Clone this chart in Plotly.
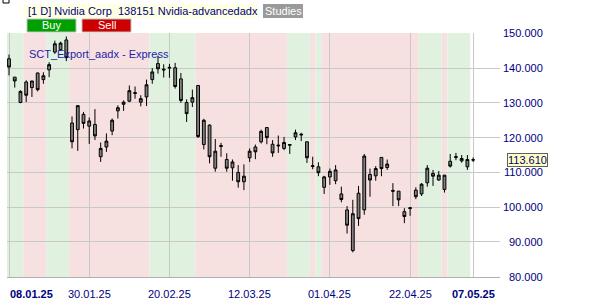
import plotly.graph_objects as go
import pandas as pd

# ---------------- data ----------------
_days = pd.bdate_range("2025-01-08", "2025-05-07")
_closed = pd.to_datetime(["2025-01-09", "2025-01-20", "2025-02-17", "2025-04-18"])
_days = _days[~_days.isin(_closed)]
dates = [d.strftime("%d.%m.%y") for d in _days]

opens = [142.7, 137.4, 130.1, 136.0, 134.4, 138.6, 136.7, 139.5, 144.6, 145.3,
         148.1, 124.2, 122.3, 126.7, 123.3, 123.8, 114.5, 117.3, 121.9, 127.7,
         129.6, 130.5, 132.7, 130.2, 131.7, 136.7, 141.3, 139.7, 140.0, 140.1,
         136.9, 130.1, 130.2, 135.0, 118.0, 123.6, 111.2, 117.7, 113.7, 111.3,
         110.0, 107.3, 114.2, 117.3, 118.8, 122.9, 118.1, 117.6, 116.9, 117.8,
         120.2, 121.0, 118.8, 111.7, 111.6, 105.7, 108.7, 107.6, 103.8, 99.2,
         87.5, 104.0, 99.2, 109.4, 109.0, 114.3, 111.4, 104.8, 104.6, 98.7,
         99.6, 104.9, 103.8, 107.0, 109.7, 107.8, 105.1, 113.2, 114.3, 113.3,
         111.6, 113.55]
highs = [143.9, 137.4, 133.6, 136.5, 136.3, 138.7, 138.8, 141.7, 147.9, 147.6,
         149.1, 126.1, 129.2, 127.4, 125.8, 128.2, 118.6, 121.2, 125.5, 129.3,
         130.7, 135.0, 134.7, 132.2, 136.7, 140.0, 143.6, 141.1, 141.2, 141.5,
         138.6, 131.0, 133.8, 135.1, 125.4, 123.8, 119.6, 118.5, 115.5, 113.7,
         112.1, 112.3, 116.9, 118.0, 122.3, 123.0, 119.3, 120.6, 120.2, 118.1,
         122.3, 121.4, 118.8, 114.5, 112.9, 109.0, 111.1, 112.1, 105.9, 100.3,
         102.1, 106.1, 115.3, 111.1, 111.8, 114.3, 113.7, 106.9, 104.6, 99.7,
         100.0, 105.7, 106.9, 112.1, 110.7, 110.4, 109.2, 115.3, 115.6, 115.0,
         115.0, 114.3]
lows = [137.9, 134.4, 129.9, 130.2, 131.7, 133.3, 135.5, 137.4, 144.1, 144.9,
        142.0, 116.9, 116.2, 122.6, 118.2, 119.3, 113.0, 115.9, 120.7, 125.5,
        127.7, 130.2, 131.2, 129.0, 129.1, 135.5, 138.4, 137.3, 137.2, 134.1,
        130.0, 124.5, 128.8, 119.9, 116.6, 112.6, 110.2, 114.5, 110.2, 107.6,
        105.6, 104.9, 113.0, 113.8, 118.3, 118.1, 114.5, 115.6, 116.4, 115.3,
        119.3, 119.0, 112.7, 110.9, 108.9, 103.8, 106.4, 106.6, 101.4, 92.4,
        87.0, 94.6, 97.8, 103.0, 107.6, 108.9, 110.7, 100.3, 100.3, 95.4,
        97.5, 102.3, 103.2, 105.9, 106.1, 107.6, 104.2, 111.4, 113.5, 112.8,
        110.7, 113.0]
closes = [140.3, 136.3, 133.3, 132.2, 136.3, 133.8, 137.8, 141.0, 147.0, 147.2,
          143.0, 118.8, 129.2, 124.1, 124.8, 120.5, 116.9, 119.0, 125.0, 128.6,
          130.2, 133.5, 132.9, 131.2, 135.2, 138.9, 139.8, 139.5, 140.2, 134.7,
          130.7, 126.9, 131.5, 120.3, 125.0, 114.5, 116.1, 117.5, 111.2, 113.0,
          107.3, 108.9, 116.1, 115.9, 121.8, 120.0, 115.6, 117.8, 118.6, 118.0,
          121.4, 120.8, 114.2, 111.9, 109.9, 108.7, 110.3, 110.7, 102.2, 94.8,
          98.1, 96.7, 114.7, 107.8, 111.1, 111.1, 112.4, 104.6, 102.1, 97.3,
          99.8, 103.0, 106.6, 111.2, 108.9, 109.2, 109.2, 111.8, 114.5, 114.0,
          113.7, 113.61]

# signal per candle: G = long (green), R = short (red), - = none
signal = list("GGG" "RRRR" "GGGG" "RRRRRRRRRRRRRR" "GGGGGGGG"
              "RRRRRRRRRRRRRRRR" "GGGG" "R" "G" "RRRRRRRRRRRRRRRRR"
              "GGGG" "R" "GGGG" "-")

x_tick_labels = ["08.01.25", "30.01.25", "20.02.25", "12.03.25",
                 "01.04.25", "22.04.25", "07.05.25"]
bold_labels = ["08.01.25", "07.05.25"]
y_ticks = [80, 90, 100, 110, 120, 130, 140, 150]
last_price = 113.61

title_left = "[1 D] Nvidia Corp"
title_right = "138151 Nvidia-advancedadx"
study_name = "SCT_Export_aadx - Express"

# ---------------- layout geometry ----------------
W, H = 600, 300
ML, MR, MT, MB = 7, 100, 33, 23
PW, PH = W - ML - MR, H - MT - MB


def px(x):
    return (x - ML) / PW


def py(y):
    return (H - MB - y) / PH


FONT = "Liberation Sans, Arial, sans-serif"
NAVY = "#000080"
GREEN_BG = "#e0f1e0"
RED_BG = "#f7e0e0"

fig = go.Figure()
fig.add_trace(go.Candlestick(
    x=dates, open=opens, high=highs, low=lows, close=closes,
    increasing=dict(line=dict(color="#000000", width=1), fillcolor="#808080"),
    decreasing=dict(line=dict(color="#000000", width=1), fillcolor="#808080"),
    whiskerwidth=0, showlegend=False, hoverinfo="skip",
))

shapes = []
# signal shading: group consecutive runs
i = 0
n = len(signal)
while i < n:
    j = i
    while j + 1 < n and signal[j + 1] == signal[i]:
        j += 1
    if signal[i] in ("G", "R"):
        shapes.append(dict(type="rect", xref="x", yref="paper",
                           x0=i - 0.5, x1=j + 0.5, y0=0, y1=1,
                           fillcolor=GREEN_BG if signal[i] == "G" else RED_BG,
                           line=dict(width=0), layer="below"))
    i = j + 1

# header boxes
shapes.append(dict(type="rect", xref="paper", yref="paper",
                   x0=px(23), x1=px(258), y0=py(18), y1=py(4),
                   fillcolor="#ffffe1", line=dict(width=0)))
shapes.append(dict(type="rect", xref="paper", yref="paper",
                   x0=px(263), x1=px(303), y0=py(18), y1=py(4),
                   fillcolor="#9a9a9a", line=dict(width=0)))
shapes.append(dict(type="rect", xref="paper", yref="paper",
                   x0=px(27), x1=px(76), y0=py(32), y1=py(19),
                   fillcolor="#00a000", line=dict(color="#c0c0c0", width=1)))
shapes.append(dict(type="rect", xref="paper", yref="paper",
                   x0=px(82), x1=px(131), y0=py(32), y1=py(19),
                   fillcolor="#cc0000", line=dict(color="#c0c0c0", width=1)))
# small corner icon
shapes.append(dict(type="rect", xref="paper", yref="paper",
                   x0=px(3), x1=px(9), y0=py(3), y1=py(-1),
                   fillcolor="rgba(0,0,0,0)", line=dict(color="#000000", width=1)))

annotations = []
# x labels
for lab in x_tick_labels:
    first = lab == x_tick_labels[0]
    txt = f"<b>{lab}</b>" if lab in bold_labels else lab
    annotations.append(dict(x=lab, xref="x", y=py(294), yref="paper",
                            text=txt, showarrow=False,
                            xanchor="left" if first else "center",
                            xshift=-1 if first else 0,
                            yanchor="middle",
                            font=dict(family=FONT, size=11, color=NAVY)))
# y labels (right aligned)
for v in y_ticks:
    annotations.append(dict(x=px(545), xref="paper", y=v, yref="y",
                            text=f"{v:.3f}", showarrow=False,
                            xanchor="right", yanchor="middle",
                            font=dict(family=FONT, size=11, color=NAVY)))
# last price box
annotations.append(dict(x=px(548), xref="paper", y=last_price, yref="y",
                        text=f"{last_price:.3f}", showarrow=False,
                        xanchor="right", yanchor="middle",
                        bgcolor="#ffffc0", bordercolor="#606060",
                        borderwidth=1, borderpad=0,
                        font=dict(family=FONT, size=11, color=NAVY)))
# header texts
annotations.append(dict(x=px(26), xref="paper", y=py(11), yref="paper",
                        text=title_left, showarrow=False, xanchor="left",
                        yanchor="middle",
                        font=dict(family=FONT, size=11, color=NAVY)))
annotations.append(dict(x=px(116), xref="paper", y=py(11), yref="paper",
                        text=title_right, showarrow=False, xanchor="left",
                        yanchor="middle",
                        font=dict(family=FONT, size=11, color=NAVY)))
annotations.append(dict(x=px(283), xref="paper", y=py(11), yref="paper",
                        text="Studies", showarrow=False, xanchor="center",
                        yanchor="middle",
                        font=dict(family=FONT, size=11, color="#ffffff")))
annotations.append(dict(x=px(51.5), xref="paper", y=py(25.5), yref="paper",
                        text="Buy", showarrow=False, xanchor="center",
                        yanchor="middle",
                        font=dict(family=FONT, size=11, color="#ffffff")))
annotations.append(dict(x=px(106.5), xref="paper", y=py(25.5), yref="paper",
                        text="Sell", showarrow=False, xanchor="center",
                        yanchor="middle",
                        font=dict(family=FONT, size=11, color="#ffffff")))
annotations.append(dict(x=px(26.5), xref="paper", y=py(54), yref="paper",
                        text=study_name, showarrow=False, xanchor="left",
                        yanchor="middle",
                        font=dict(family=FONT, size=11, color="#1e1eaa")))

fig.update_layout(
    width=W, height=H,
    margin=dict(l=ML, r=MR, t=MT, b=MB, pad=0),
    paper_bgcolor="#ffffff", plot_bgcolor="#ffffff",
    showlegend=False,
    shapes=shapes, annotations=annotations,
    xaxis=dict(type="category", range=[-0.35, 85.69],
               rangeslider=dict(visible=False),
               tickmode="array", tickvals=x_tick_labels,
               showticklabels=False, ticks="",
               showgrid=True, gridcolor="#c8c8c8", gridwidth=1,
               showline=True, linecolor="#b0b0b0", linewidth=1,
               zeroline=False, fixedrange=True),
    yaxis=dict(range=[79.9, 150.1], side="right",
               tickmode="array", tickvals=y_ticks,
               showticklabels=False, ticks="",
               showgrid=True, gridcolor="#c8c8c8", gridwidth=1,
               showline=False, zeroline=False, fixedrange=True),
)

fig.write_html("out.html")
